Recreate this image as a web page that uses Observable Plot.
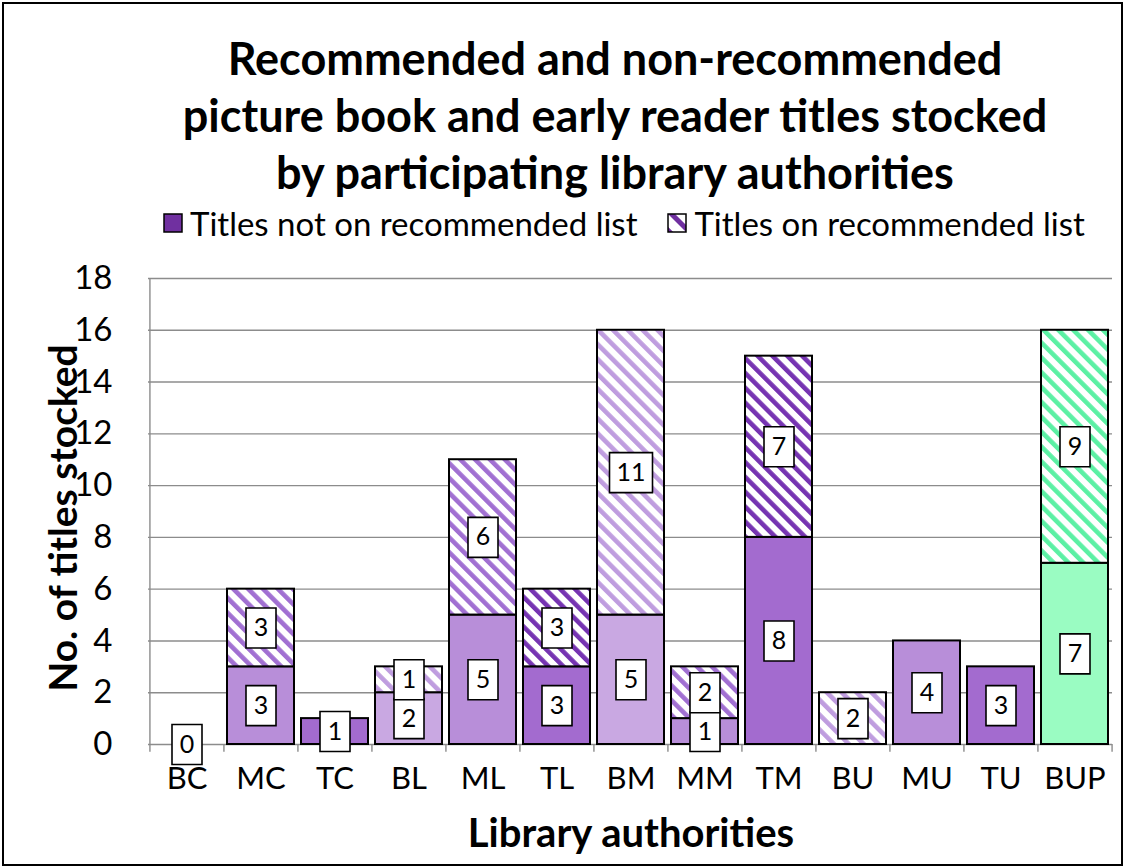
<!DOCTYPE html>
<html>
<head>
<meta charset="utf-8">
<script src="https://cdn.jsdelivr.net/npm/d3@7"></script>
<script src="https://cdn.jsdelivr.net/npm/@observablehq/plot@0.6"></script>
<style>
  html, body { margin: 0; padding: 0; background: #fff; }
  body { font-family: Lato, "Open Sans", sans-serif; color: #000; }
  #wrap { position: relative; width: 1125px; height: 868px; overflow: hidden; background: #fff; }
  #frame { position: absolute; left: 2px; top: 2px; width: 1117px; height: 860px; border: 2px solid #000; pointer-events: none; }
  #title { position: absolute; left: 105px; width: 1020px; top: 30px; text-align: center; font-weight: 700; font-size: 45px; line-height: 57px; }
  #legend { position: absolute; left: 163px; top: 205px; font-size: 33px; line-height: 36px; white-space: nowrap; display: flex; align-items: center; }
  #legend .item { display: flex; align-items: center; margin-right: 30px; }
  #legend svg { margin-right: 7px; }
  #chart { position: absolute; left: 0; top: 240px; }
  #ylabel { position: absolute; left: 62px; top: 518px; transform: translate(-50%, -50%) rotate(-90deg); font-weight: 700; font-size: 39px; white-space: nowrap; }
  #xlabel { position: absolute; left: 631px; top: 832px; transform: translate(-50%, -50%); font-weight: 700; font-size: 40px; white-space: nowrap; }
  #defs { position: absolute; width: 0; height: 0; }
</style>
</head>
<body>
<div id="wrap">
  <svg id="defs" width="0" height="0">
    <defs>
      <pattern id="hatch-light" patternUnits="userSpaceOnUse" width="10.5" height="10.5" patternTransform="rotate(-45)">
        <rect width="10.5" height="10.5" fill="#fff"/><rect width="4.6" height="10.5" fill="#bf9ddf"/>
      </pattern>
      <pattern id="hatch-medium" patternUnits="userSpaceOnUse" width="10.5" height="10.5" patternTransform="rotate(-45)">
        <rect width="10.5" height="10.5" fill="#fff"/><rect width="4.6" height="10.5" fill="#a170d2"/>
      </pattern>
      <pattern id="hatch-dark" patternUnits="userSpaceOnUse" width="10.5" height="10.5" patternTransform="rotate(-45)">
        <rect width="10.5" height="10.5" fill="#fff"/><rect width="4.6" height="10.5" fill="#7634b2"/>
      </pattern>
      <pattern id="hatch-green" patternUnits="userSpaceOnUse" width="10.5" height="10.5" patternTransform="rotate(-45)">
        <rect width="10.5" height="10.5" fill="#fff"/><rect width="4.6" height="10.5" fill="#5cf0a4"/>
      </pattern>
      <pattern id="hatch-legend" patternUnits="userSpaceOnUse" width="14" height="14" patternTransform="rotate(-45)">
        <rect width="14" height="14" fill="#fff"/><rect width="5" height="14" fill="#7030a0"/>
      </pattern>
    </defs>
  </svg>
  <div id="title">Recommended and non-recommended<br>picture book and early reader titles stocked<br>by participating library authorities</div>
  <div id="legend"></div>
  <div id="chart"></div>
  <div id="ylabel">No. of titles stocked</div>
  <div id="xlabel">Library authorities</div>
  <div id="frame"></div>
</div>
<script>
// ---- Data ----
const categories = ["BC", "MC", "TC", "BL", "ML", "TL", "BM", "MM", "TM", "BU", "MU", "TU", "BUP"];
const notRecommended = [0, 3, 1, 2, 5, 3, 5, 1, 8, 0, 4, 3, 7];
const recommended    = [0, 3, 0, 1, 6, 3, 11, 2, 7, 2, 0, 0, 9];
const seriesNames = ["Titles not on recommended list", "Titles on recommended list"];
const yTicks = [0, 2, 4, 6, 8, 10, 12, 14, 16, 18];

// ---- Styles ----
const solidFill = { light: "#c9a8e2", medium: "#b88ed9", dark: "#a36bcf", green: "#9afcc2" };
const toneOf = c => c === "BUP" ? "green" : ({ B: "light", M: "medium", T: "dark" })[c[0]];

const rows = [];
categories.forEach((cat, i) => {
  const tone = toneOf(cat);
  const total = notRecommended[i] + recommended[i];
  rows.push({ cat, series: seriesNames[0], value: notRecommended[i], fill: solidFill[tone],
              show: notRecommended[i] > 0 || total === 0 });
  rows.push({ cat, series: seriesNames[1], value: recommended[i], fill: `url(#hatch-${tone})`,
              show: recommended[i] > 0 });
});

// legend
const legend = document.getElementById("legend");
[[seriesNames[0], "#7030a0"], [seriesNames[1], "url(#hatch-legend)"]].forEach(([name, fill]) => {
  const item = document.createElement("div");
  item.className = "item";
  item.innerHTML = `<svg width="20" height="20"><rect x="1" y="1" width="18" height="18" fill="${fill}" stroke="#000" stroke-width="1.5"/></svg><span>${name}</span>`;
  legend.appendChild(item);
});

const W = 1125, H = 628, mL = 148, mR = 13, mT = 38, mB = 124;
const step = (W - mL - mR) / categories.length;
const boxSymbol = w => ({ draw(ctx) { ctx.rect(-w / 2, -20, w, 40); } });

const chart = Plot.plot({
  width: W, height: H,
  marginLeft: mL, marginRight: mR, marginTop: mT, marginBottom: mB,
  style: { fontFamily: "Lato, 'Open Sans', sans-serif", color: "#000", background: "transparent", overflow: "visible" },
  x: { domain: categories, paddingInner: 0.1, paddingOuter: 0.05, axis: null },
  y: { domain: [0, 18], axis: null },
  color: { type: "identity" },
  marks: [
    Plot.gridY(yTicks, { stroke: "#8c8c8c", strokeOpacity: 1, strokeWidth: 1.4 }),
    Plot.ruleX(categories, { x: d => d, dx: -step / 2, y1: -0.3, y2: 0, stroke: "#8c8c8c", strokeWidth: 1.4 }),
    Plot.ruleX([categories[categories.length - 1]], { x: d => d, dx: step / 2, y1: -0.3, y2: 0, stroke: "#8c8c8c", strokeWidth: 1.4 }),
    Plot.ruleX([categories[0]], { x: d => d, dx: -step / 2, y1: 0, y2: 18, stroke: "#8c8c8c", strokeWidth: 1.4 }),
    Plot.axisY(yTicks, { anchor: "left", tickSize: 0, tickPadding: 36, fontSize: 33, label: null }),
    Plot.axisX({ anchor: "bottom", tickSize: 0, tickPadding: 22, fontSize: 31, label: null }),
    Plot.barY(rows.filter(d => d.value > 0), { x: "cat", y: "value", fill: "fill", stroke: "#000", strokeWidth: 2 }),
    Plot.dot(rows, Plot.stackY({ x: "cat", y: "value", symbol: boxSymbol(30), fill: "#fff", stroke: "#000", strokeWidth: 1.6,
      fillOpacity: d => d.show && String(d.value).length === 1 ? 1 : 0,
      strokeOpacity: d => d.show && String(d.value).length === 1 ? 1 : 0 })),
    Plot.dot(rows, Plot.stackY({ x: "cat", y: "value", symbol: boxSymbol(43), fill: "#fff", stroke: "#000", strokeWidth: 1.6,
      fillOpacity: d => d.show && String(d.value).length === 2 ? 1 : 0,
      strokeOpacity: d => d.show && String(d.value).length === 2 ? 1 : 0 })),
    Plot.text(rows, Plot.stackY({ x: "cat", y: "value", text: d => d.show ? String(d.value) : null, fontSize: 25, fill: "#000" }))
  ]
});
document.getElementById("chart").appendChild(chart);
</script>
</body>
</html>
